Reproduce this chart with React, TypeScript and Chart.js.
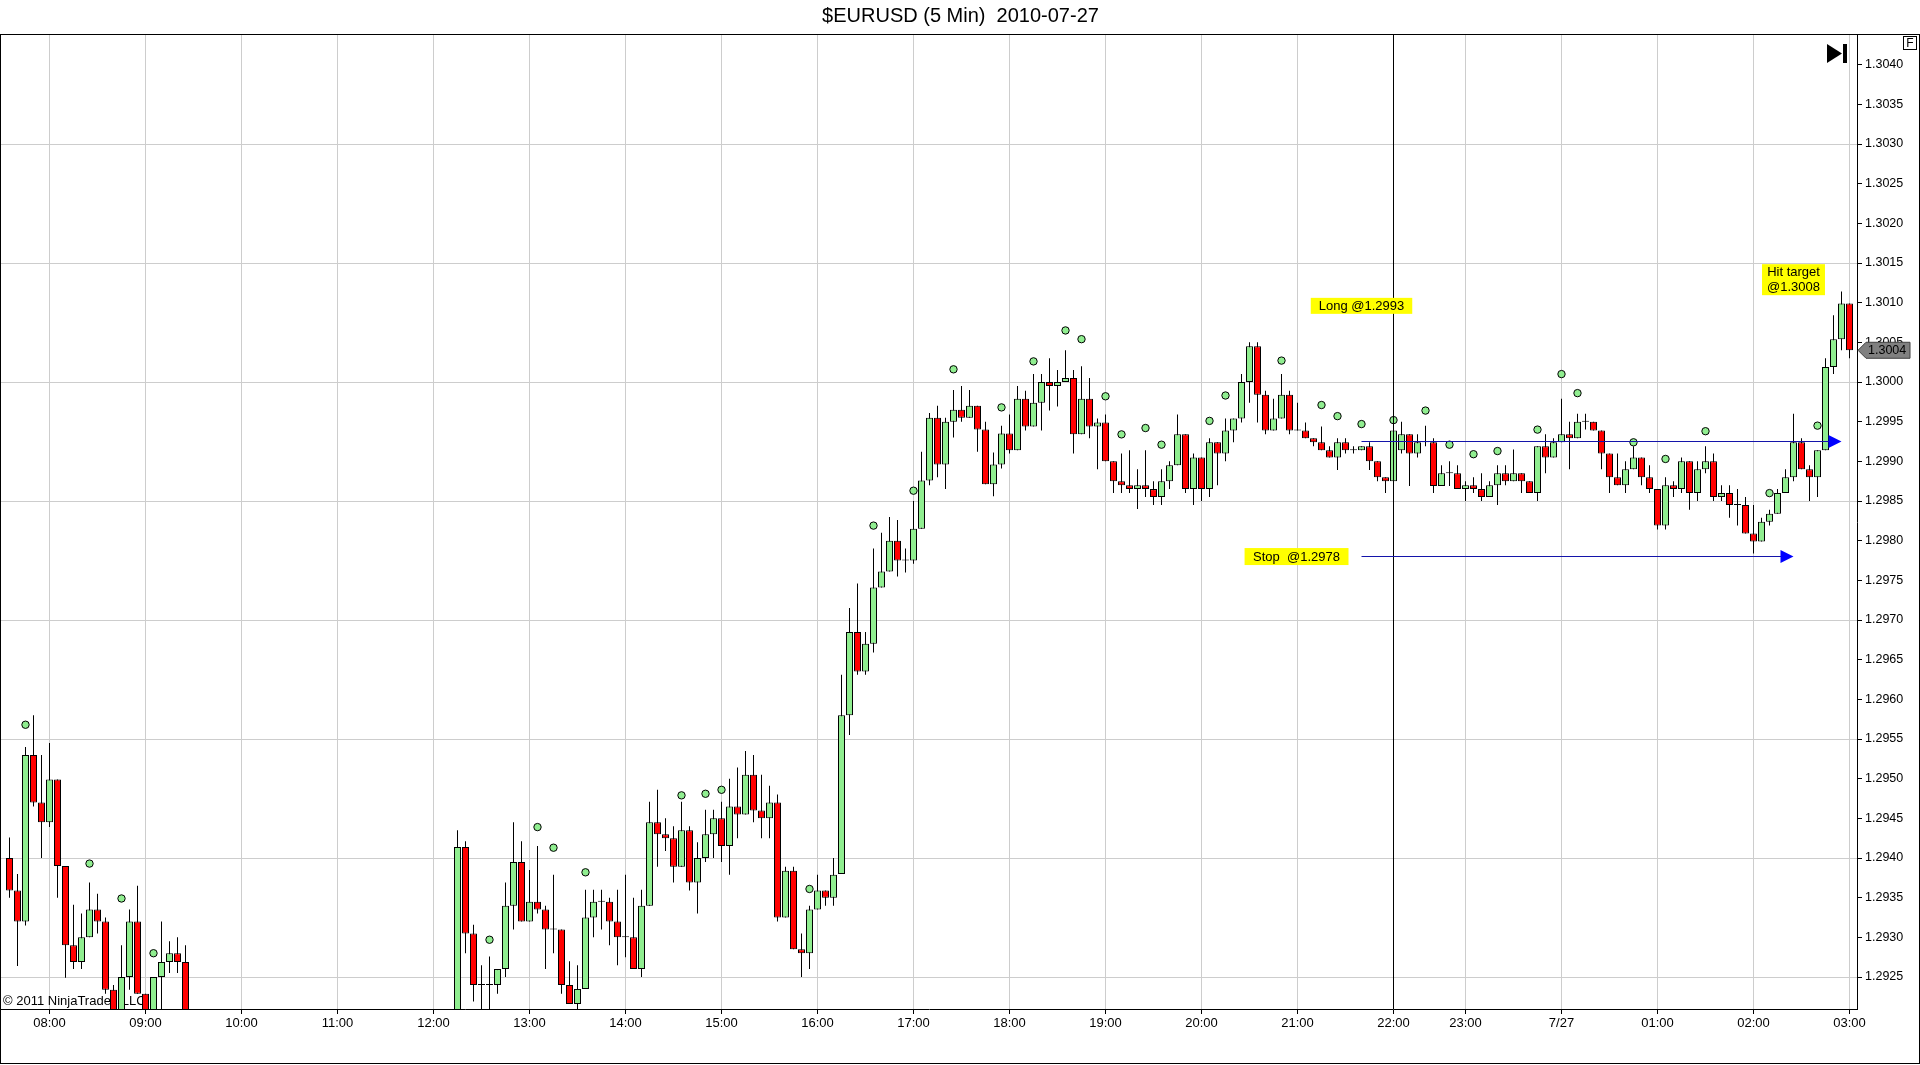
import React, { useEffect, useRef } from 'react';
import { Chart, registerables } from 'chart.js';

Chart.register(...registerables);

const FONT = '"Liberation Sans", Arial, sans-serif';
const GREEN = '#90ee90';
const RED = '#ff0000';
const GRID = '#cdcdcd';

const titleText = '$EURUSD (5 Min)  2010-07-27';
const copyrightText = '\u00a9 2011 NinjaTrader, LLC';

// bar index -> hour label (bars are equidistant, 5 min each)
const xTickBars = [5, 17, 29, 41, 53, 65, 77, 89, 101, 113, 125, 137, 149, 161, 173, 182, 194, 206, 218, 230];
const xTickLabels = ['08:00', '09:00', '10:00', '11:00', '12:00', '13:00', '14:00', '15:00', '16:00', '17:00',
  '18:00', '19:00', '20:00', '21:00', '22:00', '23:00', '7/27', '01:00', '02:00', '03:00'];

const yTicks = [1.2925, 1.2930, 1.2935, 1.2940, 1.2945, 1.2950, 1.2955, 1.2960, 1.2965, 1.2970, 1.2975, 1.2980,
  1.2985, 1.2990, 1.2995, 1.3000, 1.3005, 1.3010, 1.3015, 1.3020, 1.3025, 1.3030, 1.3035, 1.3040];
const yGridLevels = [1.2925, 1.2940, 1.2955, 1.2970, 1.2985, 1.3000, 1.3015, 1.3030];

const N33 = [null, null, null, null, null, null, null, null, null, null, null, null, null, null, null, null, null,
  null, null, null, null, null, null, null, null, null, null, null, null, null, null, null, null];

const opens: (number | null)[] = [
  1.29400, 1.29359, 1.29320, 1.29530, 1.29470, 1.29445, 1.29499, 1.29390, 1.29290, 1.29269,
  1.29300, 1.29335, 1.29320, 1.29234, 1.29205, 1.29250, 1.29320, 1.29229, 1.29205, 1.29250,
  1.29269, 1.29280, 1.29269,
  ...N33,
  1.29190, 1.29414, 1.29305, 1.29240, 1.29240, 1.29240, 1.29260, 1.29340, 1.29395, 1.29320,
  1.29345, 1.29335, 1.29310, 1.29310, 1.29240, 1.29216, 1.29235, 1.29325, 1.29345, 1.29345,
  1.29320, 1.29300, 1.29300, 1.29260, 1.29340, 1.29445, 1.29430, 1.29425, 1.29389, 1.29435,
  1.29369, 1.29400, 1.29430, 1.29450, 1.29415, 1.29465, 1.29455, 1.29505, 1.29460, 1.29450,
  1.29470, 1.29325, 1.29384, 1.29285, 1.29280, 1.29335, 1.29359, 1.29350, 1.29380, 1.29580,
  1.29685, 1.29635, 1.29670, 1.29741, 1.29761, 1.29800, 1.29775, 1.29775, 1.29815, 1.29876,
  1.29955, 1.29896, 1.29950, 1.29965, 1.29955, 1.29970, 1.29940, 1.29871, 1.29896, 1.29935,
  1.29914, 1.29979, 1.29944, 1.29974, 1.30000, 1.29995, 1.30000, 1.30005, 1.29934, 1.29979,
  1.29944, 1.29949, 1.29900, 1.29875, 1.29870, 1.29865, 1.29870, 1.29865, 1.29855, 1.29875,
  1.29895, 1.29934, 1.29865, 1.29905, 1.29865, 1.29924, 1.29910, 1.29939, 1.29954, 1.30000,
  1.30045, 1.29984, 1.29939, 1.29954, 1.29984, 1.29939, 1.29939, 1.29929, 1.29924, 1.29914,
  1.29905, 1.29924, 1.29914, 1.29914, 1.29919, 1.29900, 1.29880, 1.29875, 1.29914, 1.29934,
  1.29910, 1.29924, 1.29924, 1.29869, 1.29885, 1.29885, 1.29865, 1.29870, 1.29865, 1.29855,
  1.29870, 1.29885, 1.29875, 1.29885, 1.29875, 1.29860, 1.29919, 1.29905, 1.29924, 1.29934,
  1.29929, 1.29950, 1.29950, 1.29939, 1.29910, 1.29880, 1.29870, 1.29890, 1.29905, 1.29880,
  1.29865, 1.29819, 1.29870, 1.29865, 1.29900, 1.29860, 1.29890, 1.29900, 1.29855, 1.29860,
  1.29845, 1.29845, 1.29809, 1.29799, 1.29824, 1.29834, 1.29860, 1.29880, 1.29924, 1.29890,
  1.29880, 1.29914, 1.30019, 1.30054, 1.30099,
];

const highs: (number | null)[] = [
  1.29426, 1.29380, 1.29540, 1.29580, 1.29530, 1.29545, 1.29499, 1.29390, 1.29341, 1.29330,
  1.29369, 1.29355, 1.29325, 1.29240, 1.29290, 1.29335, 1.29365, 1.29229, 1.29250, 1.29320,
  1.29295, 1.29300, 1.29290,
  ...N33,
  1.29435, 1.29421, 1.29316, 1.29265, 1.29276, 1.29260, 1.29369, 1.29445, 1.29421, 1.29385,
  1.29415, 1.29340, 1.29379, 1.29310, 1.29270, 1.29265, 1.29360, 1.29360, 1.29360, 1.29350,
  1.29360, 1.29379, 1.29350, 1.29360, 1.29471, 1.29486, 1.29450, 1.29440, 1.29471, 1.29440,
  1.29420, 1.29461, 1.29461, 1.29471, 1.29500, 1.29514, 1.29535, 1.29530, 1.29505, 1.29491,
  1.29480, 1.29389, 1.29389, 1.29305, 1.29340, 1.29379, 1.29359, 1.29400, 1.29631, 1.29715,
  1.29746, 1.29685, 1.29790, 1.29810, 1.29830, 1.29826, 1.29790, 1.29850, 1.29912, 1.29961,
  1.29970, 1.29955, 1.29990, 1.29995, 1.29990, 1.29970, 1.29950, 1.29911, 1.29945, 1.29959,
  1.29995, 1.29989, 1.30010, 1.30010, 1.30030, 1.30015, 1.30040, 1.30015, 1.30020, 1.30005,
  1.29954, 1.29959, 1.29900, 1.29910, 1.29914, 1.29890, 1.29914, 1.29875, 1.29890, 1.29900,
  1.29959, 1.29934, 1.29910, 1.29905, 1.29929, 1.29924, 1.29954, 1.29954, 1.30010, 1.30050,
  1.30050, 1.29989, 1.29979, 1.30010, 1.29989, 1.29974, 1.29949, 1.29929, 1.29944, 1.29919,
  1.29929, 1.29929, 1.29919, 1.29919, 1.29924, 1.29900, 1.29880, 1.29949, 1.29950, 1.29934,
  1.29934, 1.29945, 1.29929, 1.29895, 1.29900, 1.29895, 1.29875, 1.29880, 1.29885, 1.29875,
  1.29895, 1.29895, 1.29915, 1.29885, 1.29875, 1.29919, 1.29934, 1.29929, 1.29979, 1.29950,
  1.29960, 1.29960, 1.29950, 1.29939, 1.29910, 1.29910, 1.29900, 1.29919, 1.29905, 1.29895,
  1.29865, 1.29880, 1.29875, 1.29905, 1.29900, 1.29900, 1.29919, 1.29910, 1.29870, 1.29870,
  1.29865, 1.29855, 1.29845, 1.29829, 1.29839, 1.29865, 1.29890, 1.29960, 1.29929, 1.29895,
  1.29914, 1.30030, 1.30084, 1.30114, 1.30099,
];

const lows: (number | null)[] = [
  1.29350, 1.29264, 1.29315, 1.29465, 1.29400, 1.29439, 1.29350, 1.29249, 1.29260, 1.29260,
  1.29300, 1.29305, 1.29229, 1.29190, 1.29190, 1.29234, 1.29229, 1.29190, 1.29190, 1.29208,
  1.29255, 1.29255, 1.29190,
  ...N33,
  1.29180, 1.29280, 1.29219, 1.29205, 1.29209, 1.29229, 1.29250, 1.29310, 1.29320, 1.29320,
  1.29330, 1.29260, 1.29280, 1.29229, 1.29216, 1.29209, 1.29235, 1.29300, 1.29310, 1.29290,
  1.29265, 1.29275, 1.29260, 1.29250, 1.29340, 1.29389, 1.29409, 1.29369, 1.29389, 1.29359,
  1.29330, 1.29395, 1.29400, 1.29395, 1.29379, 1.29425, 1.29455, 1.29445, 1.29425, 1.29425,
  1.29320, 1.29325, 1.29285, 1.29250, 1.29260, 1.29335, 1.29340, 1.29340, 1.29380, 1.29555,
  1.29631, 1.29631, 1.29659, 1.29741, 1.29761, 1.29755, 1.29760, 1.29771, 1.29815, 1.29870,
  1.29880, 1.29865, 1.29930, 1.29950, 1.29955, 1.29912, 1.29871, 1.29856, 1.29891, 1.29910,
  1.29914, 1.29939, 1.29944, 1.29939, 1.29964, 1.29969, 1.30000, 1.29910, 1.29934, 1.29929,
  1.29890, 1.29900, 1.29860, 1.29860, 1.29860, 1.29840, 1.29855, 1.29845, 1.29845, 1.29865,
  1.29895, 1.29860, 1.29845, 1.29850, 1.29855, 1.29870, 1.29900, 1.29924, 1.29949, 1.29974,
  1.29949, 1.29934, 1.29939, 1.29954, 1.29934, 1.29939, 1.29929, 1.29919, 1.29914, 1.29905,
  1.29889, 1.29910, 1.29910, 1.29914, 1.29889, 1.29875, 1.29860, 1.29865, 1.29910, 1.29869,
  1.29905, 1.29919, 1.29860, 1.29869, 1.29869, 1.29865, 1.29850, 1.29860, 1.29850, 1.29855,
  1.29845, 1.29870, 1.29875, 1.29860, 1.29860, 1.29850, 1.29885, 1.29905, 1.29924, 1.29890,
  1.29929, 1.29940, 1.29939, 1.29890, 1.29860, 1.29870, 1.29860, 1.29890, 1.29870, 1.29860,
  1.29814, 1.29814, 1.29855, 1.29860, 1.29839, 1.29850, 1.29885, 1.29850, 1.29850, 1.29829,
  1.29819, 1.29809, 1.29784, 1.29799, 1.29819, 1.29834, 1.29860, 1.29875, 1.29890, 1.29850,
  1.29855, 1.29914, 1.30010, 1.30040, 1.30030,
];

const closes: (number | null)[] = [
  1.29359, 1.29320, 1.29530, 1.29470, 1.29445, 1.29499, 1.29390, 1.29290, 1.29269, 1.29300,
  1.29335, 1.29320, 1.29234, 1.29200, 1.29250, 1.29320, 1.29229, 1.29200, 1.29250, 1.29269,
  1.29280, 1.29269, 1.29200,
  ...N33,
  1.29414, 1.29305, 1.29240, 1.29240, 1.29240, 1.29260, 1.29340, 1.29395, 1.29320, 1.29345,
  1.29335, 1.29310, 1.29310, 1.29240, 1.29216, 1.29235, 1.29325, 1.29345, 1.29345, 1.29320,
  1.29300, 1.29300, 1.29260, 1.29340, 1.29445, 1.29430, 1.29425, 1.29389, 1.29435, 1.29369,
  1.29400, 1.29430, 1.29450, 1.29415, 1.29465, 1.29455, 1.29505, 1.29460, 1.29450, 1.29470,
  1.29325, 1.29384, 1.29285, 1.29280, 1.29335, 1.29359, 1.29350, 1.29379, 1.29580, 1.29685,
  1.29635, 1.29670, 1.29741, 1.29761, 1.29800, 1.29775, 1.29775, 1.29815, 1.29876, 1.29955,
  1.29896, 1.29950, 1.29965, 1.29955, 1.29970, 1.29940, 1.29871, 1.29896, 1.29935, 1.29914,
  1.29979, 1.29944, 1.29974, 1.30000, 1.29995, 1.30000, 1.30005, 1.29934, 1.29979, 1.29944,
  1.29949, 1.29900, 1.29875, 1.29870, 1.29865, 1.29870, 1.29865, 1.29855, 1.29875, 1.29895,
  1.29934, 1.29865, 1.29905, 1.29865, 1.29924, 1.29910, 1.29939, 1.29954, 1.30000, 1.30045,
  1.29984, 1.29939, 1.29954, 1.29984, 1.29939, 1.29939, 1.29929, 1.29924, 1.29914, 1.29905,
  1.29924, 1.29914, 1.29914, 1.29919, 1.29900, 1.29880, 1.29875, 1.29939, 1.29934, 1.29910,
  1.29924, 1.29924, 1.29869, 1.29885, 1.29885, 1.29865, 1.29870, 1.29865, 1.29855, 1.29870,
  1.29885, 1.29875, 1.29885, 1.29875, 1.29860, 1.29919, 1.29905, 1.29924, 1.29934, 1.29929,
  1.29950, 1.29950, 1.29939, 1.29910, 1.29880, 1.29870, 1.29890, 1.29905, 1.29880, 1.29865,
  1.29819, 1.29870, 1.29865, 1.29900, 1.29860, 1.29890, 1.29900, 1.29855, 1.29860, 1.29845,
  1.29845, 1.29809, 1.29799, 1.29824, 1.29834, 1.29860, 1.29880, 1.29924, 1.29890, 1.29880,
  1.29914, 1.30019, 1.30054, 1.30099, 1.30040,
];

// indicator dots: bar index and value
const dotBars = [2, 10, 14, 18, 60, 66, 68, 72, 84, 87, 89, 100, 108, 113, 118, 124, 128, 132, 134, 137, 139, 142,
  144, 150, 152, 159, 164, 166, 169, 173, 177, 180, 183, 186, 191, 194, 196, 203, 207, 212, 220, 226];
const dotValues = [1.29568, 1.29393, 1.29349, 1.29280, 1.29297, 1.29439, 1.29413, 1.29382, 1.29479, 1.29481,
  1.29486, 1.29361, 1.29819, 1.29863, 1.30016, 1.29968, 1.30026, 1.30065, 1.30054, 1.29982, 1.29934, 1.29942,
  1.29921, 1.29951, 1.29983, 1.30027, 1.29971, 1.29957, 1.29947, 1.29952, 1.29964, 1.29921, 1.29909, 1.29913,
  1.29940, 1.30010, 1.29986, 1.29924, 1.29903, 1.29938, 1.29860, 1.29945];

// drawings
const markerBar = 173;
const entryBar = 169;
const longPrice = 1.29925;
const longEndBar = 229;
const stopPrice = 1.2978;
const stopEndBar = 223;
const longLabel = 'Long @1.2993';
const longLabelPrice = 1.30096;
const stopLabel = 'Stop  @1.2978';
const targetLabel = ['Hit target', '@1.3008'];
const targetBar = 223;
const targetLabelPrice = 1.30129;

function isGridLevel(v: number) {
  return yGridLevels.some((g) => Math.abs(g - v) < 1e-7);
}

const overlay = {
  id: 'overlay',
  beforeDraw(chart: any) {
    const ctx = chart.ctx;
    ctx.save();
    ctx.fillStyle = '#ffffff';
    ctx.fillRect(0, 0, chart.width, chart.height);
    ctx.restore();
  },
  beforeDatasetsDraw(chart: any) {
    const { ctx, chartArea: a } = chart;
    ctx.save();
    ctx.font = `13px ${FONT}`;
    ctx.fillStyle = '#000';
    ctx.textBaseline = 'alphabetic';
    ctx.textAlign = 'left';
    ctx.fillText(copyrightText, 3, a.bottom - 4);
    ctx.restore();
  },
  afterDatasetsDraw(chart: any) {
    const { ctx, chartArea: a } = chart;
    const xs = chart.scales.x;
    const ys = chart.scales.y;
    ctx.save();
    // vertical marker line
    const vx = Math.round(xs.getPixelForValue(markerBar) - 0.5) + 0.5;
    ctx.strokeStyle = '#000';
    ctx.lineWidth = 1;
    ctx.beginPath();
    ctx.moveTo(vx, a.top);
    ctx.lineTo(vx, a.bottom);
    ctx.stroke();

    // trade lines with arrow heads
    const drawArrow = (price: number, endBar: number) => {
      const yy = Math.round(ys.getPixelForValue(price) - 0.5) + 0.5;
      const x1 = xs.getPixelForValue(entryBar);
      const tip = xs.getPixelForValue(endBar);
      ctx.strokeStyle = '#1414aa';
      ctx.lineWidth = 1;
      ctx.beginPath();
      ctx.moveTo(x1, yy);
      ctx.lineTo(tip - 12, yy);
      ctx.stroke();
      ctx.fillStyle = '#0000ff';
      ctx.beginPath();
      ctx.moveTo(tip - 13, yy - 6.5);
      ctx.lineTo(tip, yy);
      ctx.lineTo(tip - 13, yy + 6.5);
      ctx.closePath();
      ctx.fill();
    };
    drawArrow(longPrice, longEndBar);
    drawArrow(stopPrice, stopEndBar);

    // labels
    ctx.font = `13px ${FONT}`;
    ctx.textBaseline = 'middle';
    ctx.textAlign = 'center';
    const box = (cx: number, cy: number, w: number, h: number) => {
      ctx.fillStyle = '#ffff00';
      ctx.fillRect(cx - w / 2, cy - h / 2, w, h);
    };
    // long
    {
      const cx = xs.getPixelForValue(entryBar);
      const cy = ys.getPixelForValue(longLabelPrice);
      const w = ctx.measureText(longLabel).width + 16;
      box(cx, cy, w, 16);
      ctx.fillStyle = '#000';
      ctx.fillText(longLabel, cx, cy + 0.5);
    }
    // stop
    {
      const right = xs.getPixelForValue(entryBar) - 13;
      const cy = ys.getPixelForValue(stopPrice);
      const w = ctx.measureText(stopLabel).width + 17;
      box(right - w / 2, cy, w, 17);
      ctx.fillStyle = '#000';
      ctx.fillText(stopLabel, right - w / 2, cy + 0.5);
    }
    // target
    {
      const cx = xs.getPixelForValue(targetBar);
      const cy = ys.getPixelForValue(targetLabelPrice);
      const w = Math.max(...targetLabel.map((t) => ctx.measureText(t).width)) + 10;
      box(cx, cy, w, 31);
      ctx.fillStyle = '#000';
      ctx.fillText(targetLabel[0], cx, cy - 7);
      ctx.fillText(targetLabel[1], cx, cy + 8);
    }
    ctx.restore();
  },
  afterDraw(chart: any) {
    const { ctx, chartArea: a } = chart;
    const ys = chart.scales.y;
    ctx.save();
    // last price marker
    const last = closes[closes.length - 1] as number;
    const py = ys.getPixelForValue(last);
    const x0 = a.right + 1;
    ctx.beginPath();
    ctx.moveTo(x0, py);
    ctx.lineTo(x0 + 8, py - 8);
    ctx.lineTo(x0 + 52, py - 8);
    ctx.lineTo(x0 + 52, py + 8);
    ctx.lineTo(x0 + 8, py + 8);
    ctx.closePath();
    ctx.fillStyle = '#808080';
    ctx.fill();
    ctx.strokeStyle = '#404040';
    ctx.lineWidth = 1;
    ctx.stroke();
    ctx.fillStyle = '#000';
    ctx.font = `12.5px ${FONT}`;
    ctx.textAlign = 'left';
    ctx.textBaseline = 'middle';
    ctx.fillText(last.toFixed(4), x0 + 10, py + 0.5);

    // "go to end" icon
    const ix = a.right - 30;
    ctx.fillStyle = '#000';
    ctx.beginPath();
    ctx.moveTo(ix, a.top + 9);
    ctx.lineTo(ix + 15, a.top + 18.5);
    ctx.lineTo(ix, a.top + 28);
    ctx.closePath();
    ctx.fill();
    ctx.fillRect(ix + 16, a.top + 9, 4, 19);

    // "F" box
    ctx.strokeStyle = '#000';
    ctx.strokeRect(1903.5, a.top + 1.5, 13, 13);
    ctx.font = `12px ${FONT}`;
    ctx.textAlign = 'center';
    ctx.fillText('F', 1910, a.top + 8.5);

    // frame
    ctx.strokeRect(0.5, a.top - 0.5, chart.width - 1, chart.height - a.top - 1);
    ctx.restore();
  },
};

export default function App() {
  const ref = useRef<HTMLCanvasElement>(null);

  useEffect(() => {
    document.body.style.margin = '0';
    document.body.style.overflow = 'hidden';
    const canvas = ref.current;
    if (!canvas) return;

    const bodies: any[] = [];
    const wicks: any[] = [];
    for (let i = 0; i < opens.length; i++) {
      const o = opens[i];
      if (o == null) continue;
      bodies.push({ x: i, y: [o, closes[i]] });
      wicks.push({ x: i, y: [lows[i], highs[i]] });
    }
    const dots = dotBars.map((b, k) => ({ x: b, y: dotValues[k] }));

    const chart = new Chart(canvas, {
      type: 'bar',
      data: {
        datasets: [
          {
            type: 'scatter',
            data: dots,
            order: 0,
            pointRadius: 3.7,
            pointHoverRadius: 3.7,
            pointBackgroundColor: GREEN,
            backgroundColor: GREEN,
            pointBorderColor: '#000',
            borderColor: '#000',
            pointBorderWidth: 1,
          } as any,
          {
            data: bodies,
            order: 1,
            grouped: false,
            barThickness: 7,
            minBarLength: 1,
            borderWidth: 1,
            borderColor: '#000',
            borderSkipped: false,
            inflateAmount: 0,
            backgroundColor: (c: any) => {
              const r = c.raw;
              if (!r) return GREEN;
              return r.y[1] >= r.y[0] ? GREEN : RED;
            },
          } as any,
          {
            data: wicks,
            order: 2,
            grouped: false,
            barThickness: 1,
            borderWidth: 0,
            inflateAmount: 0,
            backgroundColor: '#000',
          } as any,
        ],
      },
      options: {
        responsive: false,
        animation: false,
        devicePixelRatio: 1,
        events: [],
        layout: { autoPadding: false, padding: { left: 1, right: 0, top: 0, bottom: 0 } },
        plugins: {
          legend: { display: false },
          tooltip: { enabled: false },
          title: {
            display: true,
            text: titleText,
            color: '#000',
            font: { family: FONT, size: 20, weight: 'normal' },
            padding: { top: 4, bottom: 7 },
          },
        },
        scales: {
          x: {
            type: 'linear',
            min: -1.0625,
            max: 230.9375,
            offset: false,
            grid: { color: GRID, offset: false, drawTicks: true, tickLength: 5, tickColor: '#000', lineWidth: 1 },
            border: { display: true, color: '#000', width: 1 },
            ticks: {
              autoSkip: false,
              maxRotation: 0,
              color: '#000',
              padding: 2,
              font: { family: FONT, size: 13 },
              callback: (v: any) => {
                const k = xTickBars.indexOf(Number(v));
                return k >= 0 ? xTickLabels[k] : '';
              },
            },
            afterBuildTicks: (axis: any) => {
              axis.ticks = xTickBars.map((v) => ({ value: v }));
            },
            afterFit: (axis: any) => {
              axis.height = 56;
            },
          },
          y: {
            type: 'linear',
            position: 'right',
            min: 1.292097,
            max: 1.304374,
            grid: {
              color: (c: any) => (c.tick && isGridLevel(c.tick.value) ? GRID : 'rgba(0,0,0,0)'),
              drawTicks: true,
              tickLength: 5,
              tickColor: '#000',
              lineWidth: 1,
            },
            border: { display: true, color: '#000', width: 1 },
            ticks: {
              color: '#000',
              padding: 3,
              font: { family: FONT, size: 12.5 },
              callback: (v: any) => Number(v).toFixed(4),
            },
            afterBuildTicks: (axis: any) => {
              axis.ticks = yTicks.map((v) => ({ value: v }));
            },
            afterFit: (axis: any) => {
              axis.width = 63;
            },
          },
        },
      } as any,
      plugins: [overlay as any],
    });

    return () => chart.destroy();
  }, []);

  return <canvas ref={ref} width={1920} height={1065} style={{ display: 'block' }} />;
}
